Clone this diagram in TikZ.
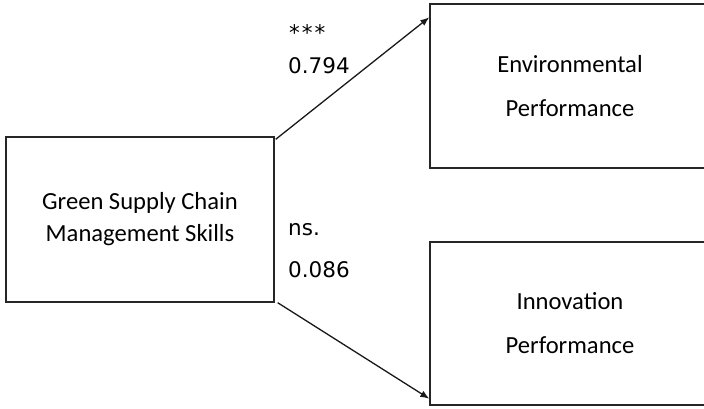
\documentclass[tikz,border=0pt]{standalone}
\usepackage{fontspec}
\setmainfont{Carlito}
\newfontfamily\labelfont{DejaVu Sans}
\usetikzlibrary{arrows.meta,calc}
\begin{document}
\begin{tikzpicture}[x=1pt,y=-1pt,
  box/.style={draw=black!85,line width=1.4pt,inner sep=0pt,align=center,
    font=\fontsize{24.6}{32}\selectfont},
  link/.style={draw=black!90,line width=1.3pt,-{Latex[length=9pt,width=7pt]}},
  coef/.style={anchor=base west,inner sep=0pt,font=\labelfont\fontsize{21.5}{26}\selectfont}]
  \useasboundingbox (0,0) rectangle (704,408);
  \fill[white] (0,0) rectangle (704,408);

  % construct boxes
  \node[box,minimum width=268pt,minimum height=165pt] (gscm) at (140,219.5)
    {Green Supply Chain\\Management Skills};
  \node[box,minimum width=280pt,minimum height=164pt,
    font=\fontsize{24.6}{44}\selectfont] (env) at (570,86)
    {Environmental\\Performance};
  \node[box,minimum width=280pt,minimum height=163pt,
    font=\fontsize{24.6}{44}\selectfont] (inn) at (570,323.5)
    {Innovation\\Performance};

  % structural paths
  \draw[link] ($(gscm.north east)+(1,3)$) -- ($(env.north west)+(0,14)$);
  \draw[link] ($(gscm.south east)+(3,0)$) -- ($(inn.south west)+(0,-7)$);

  % path coefficients
  \node[coef] (sig1) at (289,40) {*\kern2pt*\kern2pt*};
  \node[coef] (c1) at (288,73) {0.794};
  \node[coef] (sig2) at (288,235) {ns.};
  \node[coef] (c2) at (288,277) {0.086};
\end{tikzpicture}
\end{document}
